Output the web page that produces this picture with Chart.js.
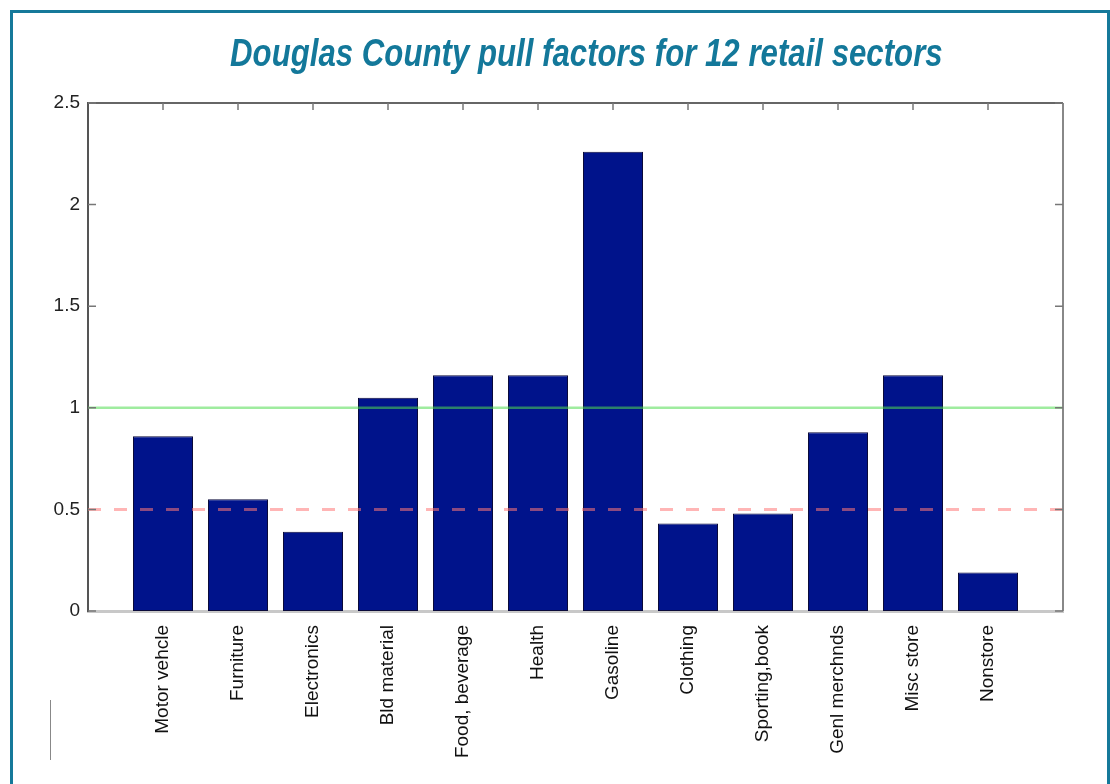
<!DOCTYPE html>
<html>
<head>
<meta charset="utf-8">
<script src="https://cdn.jsdelivr.net/npm/chart.js@4.4.1/dist/chart.umd.min.js"></script>
<style>
  html, body { margin: 0; padding: 0; background: #fff; }
  #wrap { position: relative; width: 1110px; height: 784px; overflow: hidden; }
  #frame { position: absolute; left: 10px; top: 10px; width: 1094px; height: 800px;
           border: 3px solid #15799a; border-bottom: none; pointer-events: none; }
  #title { position: absolute; left: 0; top: 31px; width: 1172px; text-align: center; margin: 0; }
  #title span { display: inline-block; transform: scaleX(0.8); transform-origin: center;
           font-family: "Liberation Sans", Arial, sans-serif; white-space: nowrap;
           font-weight: bold; font-style: italic; font-size: 39px; color: #13789a; }
  #edge { position: absolute; left: 50px; top: 700px; width: 1px; height: 60px; background: #888; }
  canvas { position: absolute; left: 0; top: 0; }
</style>
</head>
<body>
<div id="wrap">
  <canvas id="graphic" width="1110" height="784"></canvas>
  <div id="title"><span>Douglas County pull factors for 12 retail sectors</span></div>
  <div id="frame"></div>
  <div id="edge"></div>
</div>
<script>
const sectors = ['Motor vehcle', 'Furniture', 'Electronics', 'Bld material', 'Food, beverage', 'Health',
                 'Gasoline', 'Clothing', 'Sporting,book', 'Genl merchnds', 'Misc store', 'Nonstore'];
const pullFactors = [0.86, 0.55, 0.39, 1.05, 1.16, 1.16, 2.26, 0.43, 0.48, 0.88, 1.16, 0.19];
const yTicks = [0, 0.5, 1, 1.5, 2, 2.5];
const upperLine = 1;
const lowerLine = 0.5;

// empty slots at both ends so the axis runs from 0 to 13 like the original
const labels = [''].concat(sectors, ['']);
const barData = [null].concat(pullFactors, [null]);

// box and inward tick marks, matlab style
const boxTicks = {
    id: 'boxTicks',
    afterDraw(chart) {
        const c = chart.ctx;
        const a = chart.chartArea;
        const x = chart.scales.x;
        const y = chart.scales.y;
        c.save();
        c.strokeStyle = '#666';
        c.lineWidth = 2;
        c.beginPath();
        c.moveTo(a.left, a.top); c.lineTo(a.right, a.top);
        c.stroke();
        c.strokeStyle = '#888';
        c.beginPath();
        c.moveTo(a.right, a.top); c.lineTo(a.right, a.bottom);
        c.stroke();
        c.lineWidth = 1.5;
        c.strokeStyle = '#777';
        yTicks.forEach(v => {
            const py = y.getPixelForValue(v);
            c.beginPath();
            c.moveTo(a.left, py); c.lineTo(a.left + 8, py);
            c.moveTo(a.right, py); c.lineTo(a.right - 8, py);
            c.stroke();
        });
        sectors.forEach((s, i) => {
            const px = x.getPixelForValue(i + 1);
            c.beginPath();
            c.moveTo(px, a.top); c.lineTo(px, a.top + 7);
            c.stroke();
        });
        c.restore();
    }
};

const ctx = document.getElementById('graphic');
new Chart(ctx, {
    type: 'bar',
    data: {
        labels: labels,
        datasets: [
            {
                type: 'line',
                data: labels.map(() => upperLine),
                borderColor: 'rgba(80, 220, 80, 0.55)',
                borderWidth: 2.5,
                pointRadius: 0,
                order: 1
            },
            {
                type: 'line',
                data: labels.map(() => lowerLine),
                borderColor: 'rgba(255, 120, 120, 0.55)',
                borderWidth: 3,
                borderDash: [13, 13],
                pointRadius: 0,
                order: 1
            },
            {
                data: barData,
                backgroundColor: '#00138b',
                borderColor: '#0a0a3a',
                borderWidth: 1,
                borderSkipped: false,
                barPercentage: 0.8,
                categoryPercentage: 1,
                order: 2
            }
        ]
    },
    options: {
        responsive: false,
        animation: false,
        layout: { padding: { top: 103, right: 47, left: 0, bottom: 0 } },
        plugins: {
            legend: { display: false },
            tooltip: { enabled: false }
        },
        scales: {
            x: {
                offset: false,
                afterFit: s => { s.height = 173; },
                grid: { display: false, drawTicks: false },
                border: { display: true, color: '#c8c8c8', width: 3 },
                ticks: {
                    autoSkip: false,
                    minRotation: 90,
                    maxRotation: 90,
                    padding: 14,
                    color: '#111',
                    font: { family: '"Liberation Sans", Arial, sans-serif', size: 19 }
                }
            },
            y: {
                min: 0,
                max: 2.5,
                afterFit: s => { s.width = 88; },
                afterBuildTicks: s => { s.ticks = yTicks.map(v => ({ value: v })); },
                grid: { display: false, drawTicks: false },
                border: { display: true, color: '#555', width: 2 },
                ticks: {
                    padding: 8,
                    color: '#222',
                    callback: v => String(v),
                    font: { family: '"Liberation Sans", Arial, sans-serif', size: 19 }
                }
            }
        }
    },
    plugins: [boxTicks]
});
</script>
</body>
</html>
